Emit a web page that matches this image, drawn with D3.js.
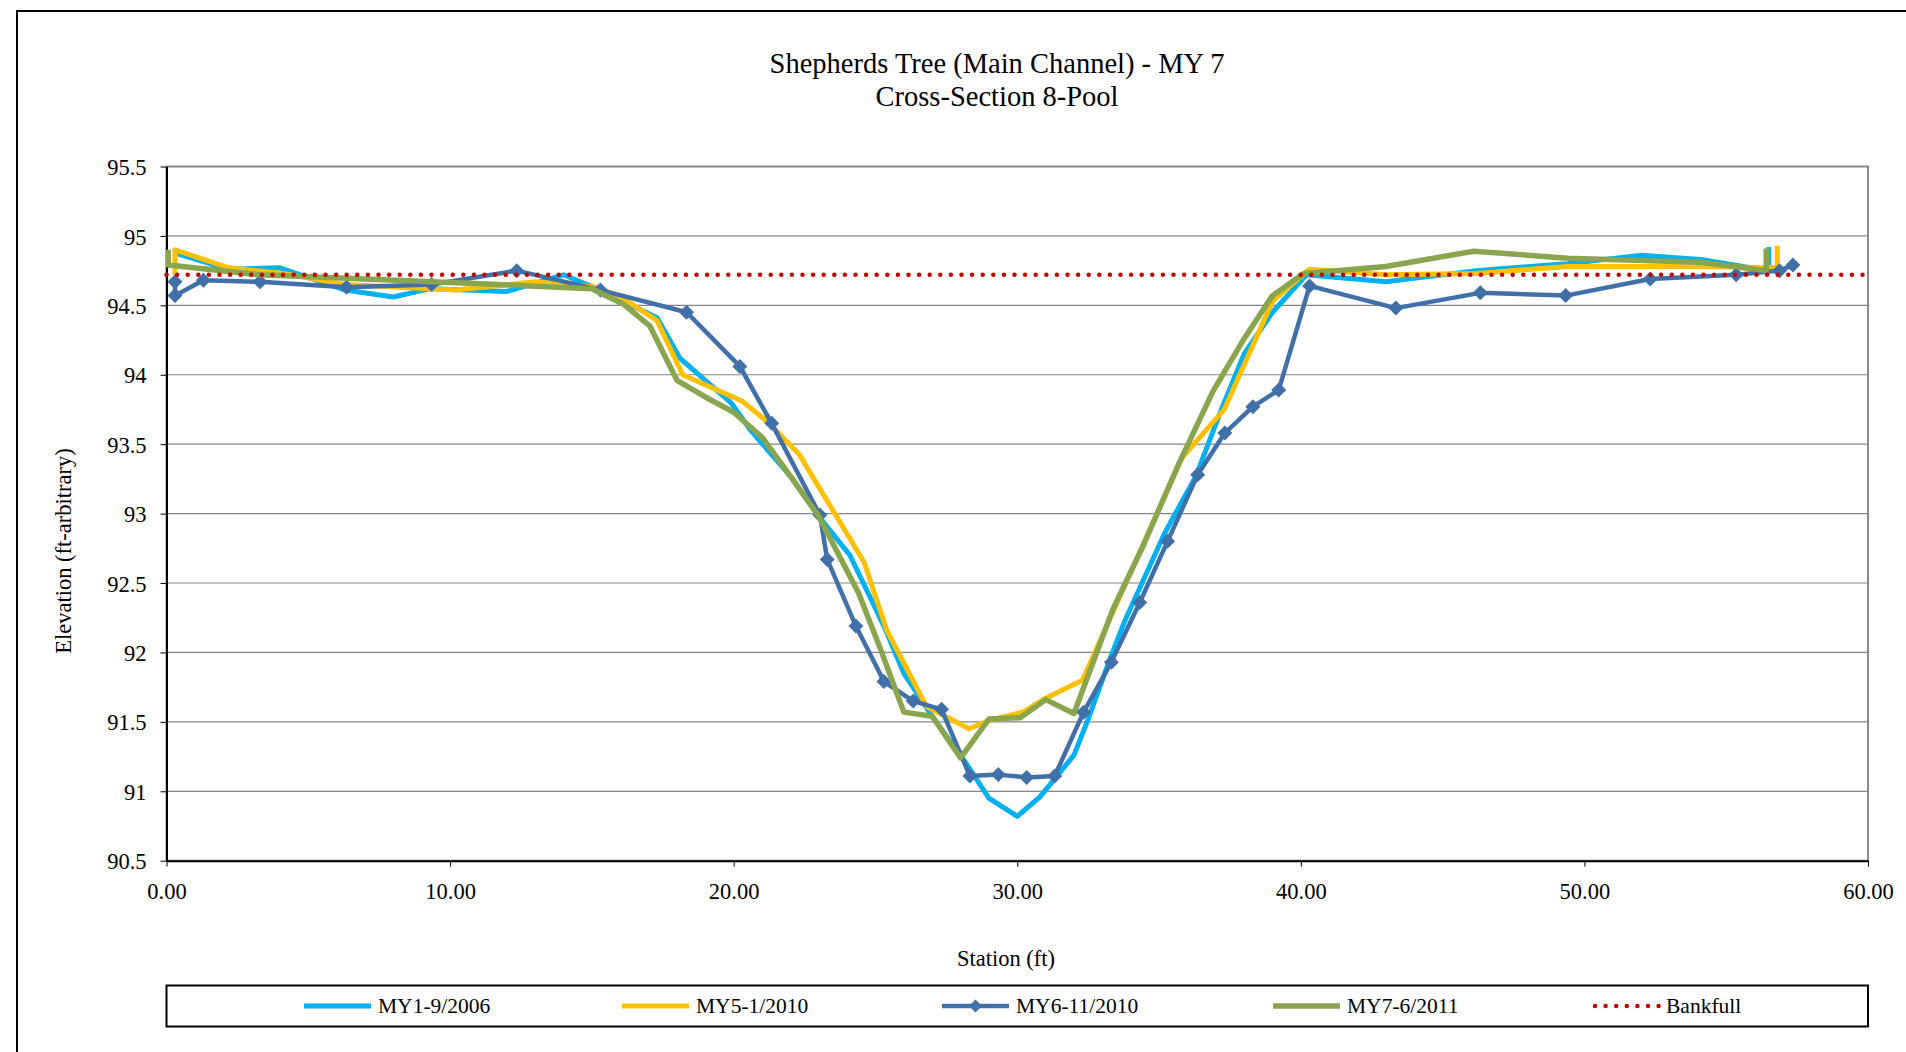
<!DOCTYPE html>
<html>
<head>
<meta charset="utf-8">
<script src="https://cdn.jsdelivr.net/npm/d3@7"></script>
<style>
  html, body { margin: 0; padding: 0; background: #fff; }
  svg { display: block; }
  text { font-family: "Liberation Serif", "Times New Roman", serif; fill: #000; }
</style>
</head>
<body>
<svg id="chart" width="1906" height="1052"></svg>
<script>
// Survey profiles: [station (ft), elevation (ft)]
const my1_2006 = [[0.40,94.87],[2.2,94.76],[4.0,94.77],[6.3,94.61],[8.0,94.56],[9.3,94.62],[12.0,94.60],[14.0,94.72],[15.3,94.61],[16.1,94.53],[17.3,94.41],[18.1,94.12],[19.9,93.80],[20.6,93.60],[22.0,93.27],[23.0,92.98],[24.1,92.70],[25.3,92.19],[26.0,91.85],[27.0,91.54],[28.2,91.20],[29.0,90.95],[30.0,90.82],[30.8,90.96],[32.0,91.26],[32.5,91.52],[33.3,91.97],[33.8,92.23],[35.2,92.86],[36.3,93.27],[37.2,93.75],[38.0,94.15],[39.0,94.45],[40.2,94.72],[43.0,94.67],[46.2,94.75],[49.4,94.80],[52.0,94.86],[54.1,94.83],[56.5,94.75],[56.5,94.92]];
const my5_2010 = [[0.30,94.72],[0.30,94.90],[2.2,94.77],[4.1,94.73],[6.3,94.65],[10.2,94.61],[13.0,94.67],[15.2,94.63],[16.1,94.55],[17.3,94.39],[18.2,94.00],[20.3,93.81],[21.2,93.66],[22.3,93.43],[24.6,92.65],[25.4,92.16],[26.8,91.61],[28.3,91.45],[29.0,91.51],[30.2,91.57],[31.0,91.67],[32.3,91.80],[35.8,93.40],[37.3,93.75],[39.0,94.53],[40.3,94.76],[43.0,94.72],[46.2,94.73],[49.4,94.78],[54.1,94.78],[56.8,94.77],[56.8,94.93]];
const my6_2010 = [[0.30,94.67],[0.30,94.57],[1.30,94.68],[3.30,94.67],[6.35,94.63],[9.35,94.65],[12.35,94.75],[15.30,94.61],[18.34,94.45],[20.22,94.06],[21.34,93.65],[23.04,92.99],[23.30,92.67],[24.31,92.19],[25.30,91.79],[26.33,91.65],[27.33,91.59],[28.33,91.11],[29.33,91.12],[30.33,91.10],[31.32,91.11],[32.34,91.57],[33.32,91.93],[34.32,92.36],[35.30,92.80],[36.36,93.28],[37.32,93.58],[38.31,93.77],[39.22,93.89],[40.31,94.64],[43.35,94.48],[46.33,94.59],[49.34,94.57],[52.32,94.69],[55.35,94.72],[56.88,94.75],[57.35,94.79]];
const my7_2011 = [[0.06,94.90],[0.06,94.79],[3.3,94.72],[9.4,94.67],[15.0,94.62],[16.1,94.51],[17.05,94.35],[18.0,93.96],[19.0,93.84],[20.0,93.73],[21.0,93.55],[22.0,93.27],[23.0,92.98],[24.4,92.43],[25.15,92.04],[26.0,91.57],[27.0,91.54],[28.0,91.24],[29.0,91.52],[30.1,91.53],[31.0,91.66],[32.0,91.56],[33.37,92.31],[34.4,92.75],[35.7,93.36],[36.9,93.88],[38.0,94.26],[39.0,94.57],[40.1,94.73],[43.0,94.78],[46.1,94.89],[49.4,94.84],[54.1,94.81],[56.41,94.75],[56.41,94.91]];
const bankfull = [[0,94.72],[60,94.72]];

const seriesNames = ["MY1-9/2006", "MY5-1/2010", "MY6-11/2010", "MY7-6/2011", "Bankfull"];
const xTickValues = [0, 10, 20, 30, 40, 50, 60];
const yTickValues = [90.5, 91, 91.5, 92, 92.5, 93, 93.5, 94, 94.5, 95, 95.5];

const series = [
  { name: seriesNames[0], data: my1_2006, color: "#00B0F0", width: 5 },
  { name: seriesNames[1], data: my5_2010, color: "#FFC000", width: 5 },
  { name: seriesNames[2], data: my6_2010, color: "#4170A8", width: 4.5, marker: true },
  { name: seriesNames[3], data: my7_2011, color: "#89A54E", width: 5.5 },
  { name: seriesNames[4], data: bankfull, color: "#C00000", width: 4.5, dotted: true }
];

const svg = d3.select("#chart");
const plot = { left: 166.5, right: 1868, top: 166.5, bottom: 860.7 };

const x = d3.scaleLinear().domain([0, 60]).range([plot.left, plot.right]);
const y = d3.scaleLinear().domain([90.5, 95.5]).range([plot.bottom, plot.top]);

// Outer chart frame
svg.append("rect")
  .attr("x", 17).attr("y", 11).attr("width", 1950).attr("height", 1100)
  .attr("fill", "#fff").attr("stroke", "#000").attr("stroke-width", 2);

// Titles
svg.append("text").attr("x", 997).attr("y", 73).attr("text-anchor", "middle")
  .attr("font-size", 28.5).text("Shepherds Tree (Main Channel) - MY 7");
svg.append("text").attr("x", 997).attr("y", 106).attr("text-anchor", "middle")
  .attr("font-size", 28.5).text("Cross-Section 8-Pool");

// Plot area border
svg.append("rect")
  .attr("x", plot.left).attr("y", plot.top)
  .attr("width", plot.right - plot.left).attr("height", plot.bottom - plot.top)
  .attr("fill", "#fff").attr("stroke", "#8a8a8a").attr("stroke-width", 2);

// Horizontal gridlines
svg.append("g").selectAll("line")
  .data(yTickValues.slice(1))
  .join("line")
  .attr("x1", plot.left).attr("x2", plot.right)
  .attr("y1", d => y(d)).attr("y2", d => y(d))
  .attr("stroke", "#858585").attr("stroke-width", 1.2);

// Axes
const yAxis = svg.append("g")
  .attr("transform", `translate(${plot.left},0)`)
  .call(d3.axisLeft(y).tickValues(yTickValues).tickFormat(d3.format("~g")).tickSizeOuter(0).tickSizeInner(6).tickPadding(14));
const xAxis = svg.append("g")
  .attr("transform", `translate(0,${plot.bottom})`)
  .call(d3.axisBottom(x).tickValues(xTickValues).tickFormat(d3.format(".2f")).tickSizeOuter(0).tickSizeInner(6).tickPadding(12));
[yAxis, xAxis].forEach(g => {
  g.select(".domain").attr("stroke", "#000").attr("stroke-width", 2);
  g.selectAll(".tick line").attr("stroke", "#000").attr("stroke-width", 1);
  g.selectAll(".tick text")
    .attr("font-family", "'Liberation Serif', 'Times New Roman', serif")
    .attr("font-size", 22.5).attr("fill", "#000");
});
yAxis.selectAll(".tick text").attr("dy", "0.36em");
xAxis.selectAll(".tick text").attr("dy", "0.9em");

// Axis titles
svg.append("text").attr("x", 1006).attr("y", 966).attr("text-anchor", "middle")
  .attr("font-size", 22.5).text("Station (ft)");
svg.append("text").attr("transform", "translate(71,551) rotate(-90)")
  .attr("text-anchor", "middle").attr("font-size", 22.5).text("Elevation (ft-arbitrary)");

// Series lines
const line = d3.line().x(d => x(d[0])).y(d => y(d[1]));
const diamond = r => `M0,${-r}L${r},0L0,${r}L${-r},0Z`;

const lineLayer = svg.append("g");
// bankfull is drawn last so its dots sit on top of the profiles
series.forEach(s => {
  const path = lineLayer.append("path")
    .datum(s.data)
    .attr("d", line)
    .attr("fill", "none")
    .attr("stroke", s.color)
    .attr("stroke-width", s.width)
    .attr("stroke-linejoin", "round");
  if (s.dotted) {
    path.attr("stroke-dasharray", "0 10.6").attr("stroke-linecap", "round");
  }
  if (s.marker) {
    lineLayer.append("g").selectAll("path")
      .data(s.data)
      .join("path")
      .attr("transform", d => `translate(${x(d[0])},${y(d[1])})`)
      .attr("d", diamond(7.5))
      .attr("fill", s.color);
  }
});

// Legend
const legend = svg.append("g");
legend.append("rect")
  .attr("x", plot.left).attr("y", 985.5)
  .attr("width", plot.right - plot.left).attr("height", 41)
  .attr("fill", "#fff").attr("stroke", "#000").attr("stroke-width", 2);
const legendX = [304, 622, 942, 1273, 1592];
const legendY = 1006;
series.forEach((s, i) => {
  const g = legend.append("g").attr("transform", `translate(${legendX[i]},${legendY})`);
  const l = g.append("line").attr("x1", 0).attr("x2", 67).attr("y1", 0).attr("y2", 0)
    .attr("stroke", s.color).attr("stroke-width", s.width);
  if (s.dotted) l.attr("stroke-dasharray", "0 10.6").attr("stroke-linecap", "round").attr("x1", 3);
  if (s.marker) g.append("path").attr("transform", "translate(33.5,0)").attr("d", diamond(6.5)).attr("fill", s.color);
  g.append("text").attr("x", 74).attr("y", 0).attr("dy", "0.34em")
    .attr("font-size", 21.5).text(s.name);
});
</script>
</body>
</html>
